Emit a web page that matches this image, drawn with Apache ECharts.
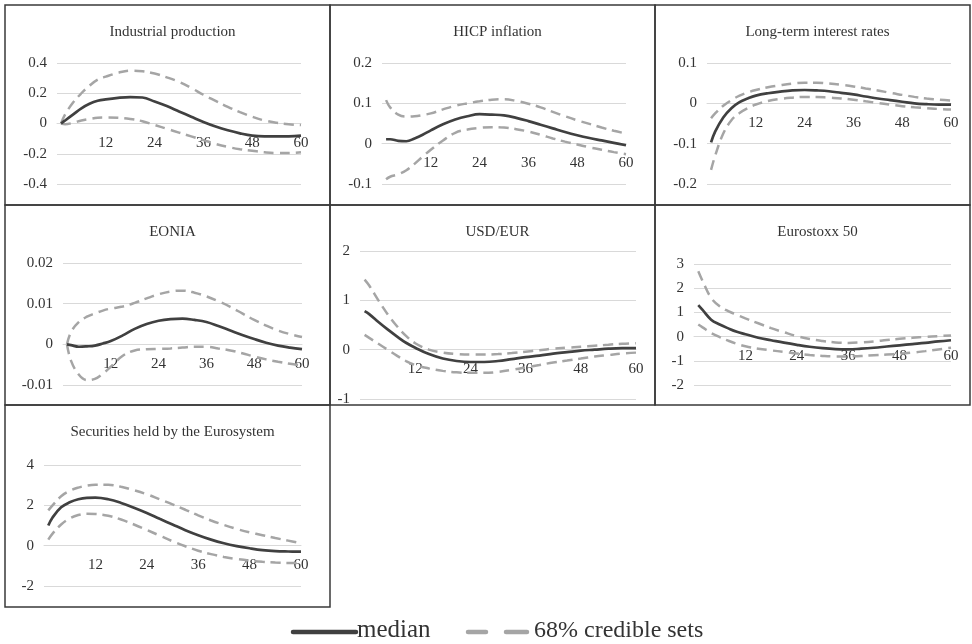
<!DOCTYPE html>
<html><head><meta charset="utf-8">
<script src="https://cdn.jsdelivr.net/npm/echarts@6/dist/echarts.min.js"></script>
<style>html,body{margin:0;padding:0;background:#fff}#c{width:972px;height:644px}</style>
</head><body><div id="c"></div>
<script>
const months = [1,2,4,6,8,10,12,15,18,21,24,27,30,33,36,39,42,45,48,51,54,57,60];
const xTicks = [12,24,36,48,60];

const titles = ["Industrial production","HICP inflation","Long-term interest rates","EONIA","USD/EUR","Eurostoxx 50","Securities held by the Eurosystem"];

// Industrial production
const ipMed = [0,0.02,0.06,0.1,0.13,0.15,0.16,0.17,0.175,0.172,0.145,0.115,0.08,0.045,0.01,-0.02,-0.045,-0.065,-0.08,-0.085,-0.085,-0.085,-0.08];
const ipUp  = [0,0.06,0.14,0.2,0.25,0.29,0.31,0.335,0.35,0.345,0.33,0.305,0.275,0.235,0.19,0.15,0.11,0.075,0.045,0.02,0.005,-0.005,-0.01];
const ipLo  = [0,-0.005,0.005,0.02,0.03,0.038,0.04,0.038,0.03,0.015,-0.01,-0.035,-0.06,-0.085,-0.11,-0.135,-0.155,-0.17,-0.18,-0.19,-0.195,-0.195,-0.19];
// HICP inflation
const hiMed = [0.011,0.011,0.007,0.006,0.013,0.022,0.033,0.048,0.06,0.068,0.073,0.072,0.07,0.064,0.056,0.047,0.038,0.029,0.021,0.014,0.008,0.002,-0.004];
const hiUp  = [0.108,0.09,0.072,0.067,0.068,0.071,0.075,0.085,0.094,0.1,0.105,0.109,0.11,0.106,0.099,0.09,0.079,0.068,0.058,0.049,0.04,0.032,0.025];
const hiLo  = [-0.088,-0.082,-0.076,-0.066,-0.05,-0.032,-0.015,0.008,0.027,0.035,0.039,0.041,0.04,0.036,0.03,0.022,0.013,0.005,-0.002,-0.009,-0.015,-0.021,-0.026];
// Long-term interest rates
const ltMed = [-0.097,-0.07,-0.035,-0.012,0.003,0.012,0.019,0.025,0.029,0.032,0.033,0.032,0.03,0.026,0.022,0.017,0.012,0.008,0.004,0.0,-0.002,-0.003,-0.003];
const ltUp  = [-0.037,-0.025,-0.006,0.008,0.019,0.027,0.033,0.04,0.045,0.049,0.051,0.051,0.049,0.046,0.042,0.037,0.032,0.026,0.021,0.016,0.012,0.009,0.007];
const ltLo  = [-0.165,-0.13,-0.075,-0.042,-0.024,-0.012,-0.003,0.006,0.011,0.014,0.016,0.016,0.014,0.012,0.009,0.005,0.001,-0.003,-0.007,-0.01,-0.012,-0.014,-0.015];
// EONIA
const eoMed = [0,-0.0002,-0.0006,-0.0005,-0.0003,0.0002,0.0008,0.0022,0.0038,0.005,0.0058,0.0062,0.0063,0.006,0.0055,0.0045,0.0034,0.0023,0.0013,0.0004,-0.0003,-0.0008,-0.0012];
const eoUp  = [0,0.003,0.0055,0.0068,0.0076,0.0083,0.0088,0.0093,0.0102,0.0113,0.0123,0.013,0.0132,0.0127,0.0118,0.0106,0.0092,0.0076,0.006,0.0046,0.0034,0.0025,0.0018];
const eoLo  = [0,-0.004,-0.0075,-0.0088,-0.0085,-0.0072,-0.0055,-0.0028,-0.0015,-0.0012,-0.0011,-0.001,-0.0008,-0.0006,-0.0006,-0.001,-0.0015,-0.0022,-0.003,-0.0037,-0.0043,-0.0048,-0.0052];
// USD/EUR
const usMed = [0.78,0.72,0.56,0.41,0.27,0.14,0.04,-0.09,-0.18,-0.23,-0.25,-0.25,-0.23,-0.19,-0.15,-0.12,-0.08,-0.05,-0.02,0.0,0.02,0.03,0.03];
const usUp  = [1.42,1.3,1.0,0.72,0.48,0.28,0.13,0.0,-0.06,-0.09,-0.1,-0.1,-0.09,-0.07,-0.04,-0.01,0.02,0.04,0.06,0.08,0.1,0.12,0.13];
const usLo  = [0.3,0.24,0.12,0.0,-0.12,-0.23,-0.31,-0.38,-0.43,-0.46,-0.47,-0.47,-0.45,-0.41,-0.36,-0.31,-0.26,-0.22,-0.18,-0.14,-0.11,-0.08,-0.06];
// Eurostoxx 50
const esMed = [1.3,1.1,0.7,0.5,0.34,0.2,0.1,-0.05,-0.15,-0.25,-0.34,-0.42,-0.48,-0.52,-0.53,-0.5,-0.46,-0.41,-0.36,-0.31,-0.26,-0.2,-0.15];
const esUp  = [2.7,2.3,1.6,1.25,1.05,0.9,0.75,0.55,0.35,0.18,0.02,-0.1,-0.18,-0.24,-0.26,-0.24,-0.2,-0.14,-0.09,-0.05,-0.01,0.02,0.05];
const esLo  = [0.5,0.38,0.15,-0.02,-0.17,-0.3,-0.4,-0.5,-0.57,-0.63,-0.7,-0.76,-0.8,-0.82,-0.82,-0.8,-0.77,-0.74,-0.71,-0.66,-0.6,-0.53,-0.46];
// Securities held by the Eurosystem
const seMed = [1.0,1.4,1.9,2.15,2.3,2.37,2.38,2.3,2.12,1.88,1.62,1.33,1.05,0.77,0.52,0.3,0.12,-0.02,-0.13,-0.22,-0.27,-0.29,-0.3];
const seUp  = [1.75,2.0,2.45,2.72,2.88,2.98,3.02,3.02,2.92,2.75,2.55,2.3,2.05,1.78,1.5,1.25,1.03,0.83,0.66,0.52,0.38,0.25,0.12];
const seLo  = [0.3,0.6,1.05,1.35,1.52,1.58,1.57,1.48,1.3,1.05,0.78,0.5,0.22,-0.03,-0.25,-0.42,-0.56,-0.66,-0.74,-0.8,-0.84,-0.86,-0.86];

// y-axis ranges [min, max, interval]
const yRanges = [[-0.4,0.4,0.2],[-0.1,0.2,0.1],[-0.2,0.1,0.1],[-0.01,0.02,0.01],[-1,2,1],[-2,3,1],[-2,4,2]];

const seriesSets = [[ipMed,ipUp,ipLo],[hiMed,hiUp,hiLo],[ltMed,ltUp,ltLo],[eoMed,eoUp,eoLo],[usMed,usUp,usLo],[esMed,esUp,esLo],[seMed,seUp,seLo]];

// layout: panel boxes and plot areas (pixels)
const panels = [[5,5,325,200],[330,5,325,200],[655,5,315,200],[5,205,325,200],[330,205,325,200],[655,205,315,200],[5,405,325,202]];
const grids = [
  {left:57,top:63,width:244,height:121},
  {left:382,top:63,width:244,height:121},
  {left:707,top:63,width:244,height:121},
  {left:63,top:263,width:239,height:122},
  {left:360,top:251,width:276,height:148},
  {left:694,top:264,width:257,height:121},
  {left:44,top:465,width:257,height:121}
];

const FONT = '"Liberation Serif", "Times New Roman", serif';
const TXT = '#333333';
const MED = '#404040';
const BAND = '#a5a5a5';

const option = {
  animation:false,
  backgroundColor:'#fff',
  title: titles.map((t,i)=>({
    text:t, left: panels[i][0]+panels[i][2]/2, top: panels[i][1]+15, textAlign:'center',
    textStyle:{fontFamily:FONT,fontSize:15,fontWeight:'normal',color:TXT}
  })),
  grid: grids,
  xAxis: grids.map((g,i)=>({
    type:'value', gridIndex:i, min:0, max:60, interval:12, position:'bottom',
    // place the axis on the zero line of the value axis
    offset: -g.height*(0-yRanges[i][0])/(yRanges[i][1]-yRanges[i][0]),
    axisLine:{show:true,onZero:false,lineStyle:{color:'#d9d9d9',width:1}},
    axisTick:{show:false}, splitLine:{show:false},
    axisLabel:{fontFamily:FONT,fontSize:15,color:TXT,margin:12,
      formatter:v=> xTicks.includes(v)? String(v):''}
  })),
  yAxis: grids.map((g,i)=>({
    type:'value', gridIndex:i, min:yRanges[i][0], max:yRanges[i][1], interval:yRanges[i][2],
    axisLine:{show:false}, axisTick:{show:false},
    splitLine:{show:true,lineStyle:{color:'#d9d9d9',width:1}},
    axisLabel:{fontFamily:FONT,fontSize:15,color:TXT,margin:10}
  })),
  series: [],
  graphic: []
};

seriesSets.forEach((set,i)=>{
  const mk = arr => months.map((m,k)=>[m,arr[k]]);
  option.series.push({type:'line',xAxisIndex:i,yAxisIndex:i,data:mk(set[1]),smooth:0.4,symbol:'none',
    lineStyle:{color:BAND,width:2.5,type:[10,6]},z:2});
  option.series.push({type:'line',xAxisIndex:i,yAxisIndex:i,data:mk(set[2]),smooth:0.4,symbol:'none',
    lineStyle:{color:BAND,width:2.5,type:[10,6]},z:2});
  option.series.push({type:'line',xAxisIndex:i,yAxisIndex:i,data:mk(set[0]),smooth:0.4,symbol:'none',
    lineStyle:{color:MED,width:2.7},z:3});
});

panels.forEach(p=>{
  option.graphic.push({type:'rect',shape:{x:p[0],y:p[1],width:p[2],height:p[3]},
    style:{fill:'none',stroke:'#3a3a3a',lineWidth:1.5},silent:true,z:100});
});

// legend drawn as graphics
option.graphic.push(
  {type:'line',shape:{x1:293,y1:632,x2:356,y2:632},style:{stroke:MED,lineWidth:4.5,lineCap:'round'},z:100},
  {type:'text',left:357,top:618,style:{text:'median',font:'25px '+FONT,fill:TXT},z:100},
  {type:'line',shape:{x1:468,y1:632,x2:486,y2:632},style:{stroke:BAND,lineWidth:4.5,lineCap:'round'},z:100},
  {type:'line',shape:{x1:506,y1:632,x2:527,y2:632},style:{stroke:BAND,lineWidth:4.5,lineCap:'round'},z:100},
  {type:'text',left:534,top:619,style:{text:'68% credible sets',font:'24px '+FONT,fill:TXT},z:100}
);

const chart = echarts.init(document.getElementById('c'),null,{renderer:'canvas'});
chart.setOption(option);
</script></body></html>
